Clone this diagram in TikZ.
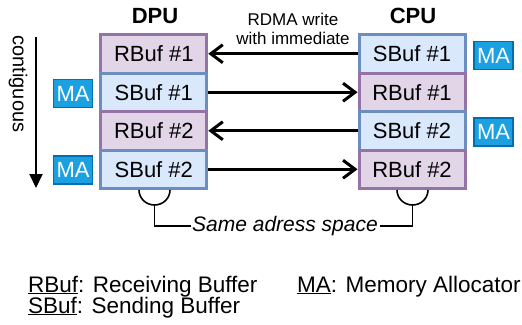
\documentclass[tikz,border=0pt]{standalone}
\usepackage{fontspec}
\setmainfont{Liberation Sans}
\usetikzlibrary{arrows.meta}
\definecolor{rfill}{HTML}{E1D5E7}
\definecolor{rdraw}{HTML}{9673A6}
\definecolor{sfill}{HTML}{DAE8FC}
\definecolor{sdraw}{HTML}{6C8EBF}
\definecolor{mafill}{HTML}{1BA1E2}
\definecolor{madraw}{HTML}{006EAF}
\begin{document}
\begin{tikzpicture}[x=1pt,y=-1pt,
  buf/.style={minimum width=106pt,minimum height=38.5pt,inner sep=0pt,line width=3pt,
    font=\fontsize{22}{24}\selectfont},
  rbuf/.style={buf,fill=rfill,draw=rdraw},
  sbuf/.style={buf,fill=sfill,draw=sdraw},
  mabox/.style={minimum width=39pt,minimum height=28pt,inner sep=0pt,fill=mafill,draw=madraw,
    line width=1.3pt,text=white,font=\fontsize{22}{24}\selectfont},
  msg/.style={line width=3pt,-{Straight Barb[length=12pt,width=18pt]}},
  brace/.style={line width=1.6pt},
  lbl/.style={font=\fontsize{22}{24}\selectfont\bfseries},
  leg/.style={anchor=base west,inner sep=0pt,font=\fontsize{22.5}{24}\selectfont}]
\useasboundingbox (0,0) rectangle (522,324);
% DPU column
\node[rbuf] (d1) at (153.8,53.75) {RBuf \#1};
\node[sbuf] (d2) at (153.8,92.25) {SBuf \#1};
\node[rbuf] (d3) at (153.8,130.75) {RBuf \#2};
\node[sbuf] (d4) at (153.8,169.25) {SBuf \#2};
% CPU column
\node[sbuf] (c1) at (412,53.75) {SBuf \#1};
\node[rbuf] (c2) at (412,92.25) {RBuf \#1};
\node[sbuf] (c3) at (412,130.75) {SBuf \#2};
\node[rbuf] (c4) at (412,169.25) {RBuf \#2};
% titles
\node[lbl,anchor=base] (dpu) at (155,23.5) {DPU};
\node[lbl,anchor=base] (cpu) at (413,23.5) {CPU};
\node[align=center,inner sep=0pt,font=\fontsize{17}{19.5}\selectfont] (rdma) at (293,29) {RDMA write\\with immediate};
% messages
\draw[msg] (c1.west) -- (d1.east);
\draw[msg] (d2.east) -- (c2.west);
\draw[msg] (c3.west) -- (d3.east);
\draw[msg] (d4.east) -- (c4.west);
% MA boxes
\node[mabox] (ma1) at (73,93.5) {MA};
\node[mabox] (ma2) at (73,170) {MA};
\node[mabox] (ma3) at (493.5,55.5) {MA};
\node[mabox] (ma4) at (493.5,132) {MA};
% contiguous
\coordinate (ctop) at (36,37);
\coordinate (cbot) at (36,188);
\draw[line width=2pt,-{Triangle[length=14pt,width=13pt]}] (ctop) -- (cbot);
\node[rotate=-90,inner sep=0pt,font=\fontsize{20}{22}\selectfont] (contig) at (18,84) {contiguous};
% same address space
\node[inner sep=1.5pt,font=\fontsize{21}{23}\selectfont\itshape] (same) at (285,226) {Same adress space};
\coordinate (bl) at (154.5,205);
\coordinate (br) at (412.5,205);
\draw[brace] (139,190) to[out=-90,in=180] (bl) to[out=0,in=-90] (170,190);
\draw[brace] (397,190) to[out=-90,in=180] (br) to[out=0,in=-90] (428,190);
\draw[brace] (bl) |- (same.west);
\draw[brace] (br) |- (same.east);
% legend
\node[leg] (l1) at (28,292) {\underline{RBuf}: Receiving Buffer};
\node[leg] (l2) at (28,313) {\underline{SBuf}: Sending Buffer};
\node[leg] (l3) at (297,292) {\underline{MA}: Memory Allocator};
\end{tikzpicture}
\end{document}
